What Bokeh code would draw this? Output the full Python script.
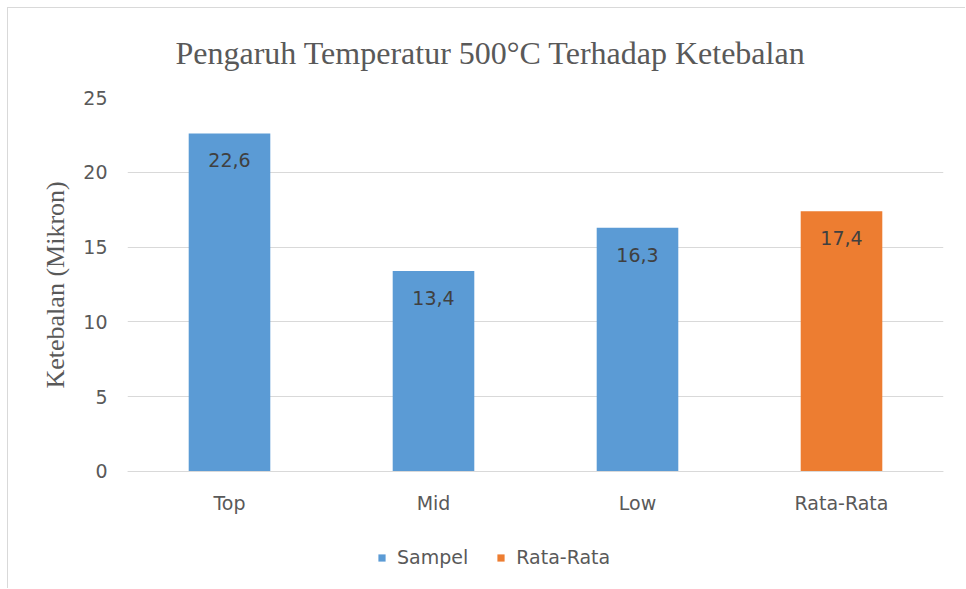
from bokeh.plotting import figure
from bokeh.models import ColumnDataSource, Legend, LegendItem, FactorRange, Range1d, FixedTicker, Title
from bokeh.core.properties import value
from bokeh.embed import file_html
from bokeh.resources import INLINE

categories = ["Top", "Mid", "Low", "Rata-Rata"]
values = [22.6, 13.4, 16.3, 17.4]
value_labels = ["22,6", "13,4", "16,3", "17,4"]
series = ["Sampel", "Sampel", "Sampel", "Rata-Rata"]
y_ticks = [0, 5, 10, 15, 20, 25]
title_text = "Pengaruh Temperatur 500°C Terhadap Ketebalan"
y_label = "Ketebalan (Mikron)"

BLUE = "#5B9BD5"
ORANGE = "#ED7D31"
GRAY = "#595959"
SANS = "DejaVu Sans"
colors = [BLUE if s == "Sampel" else ORANGE for s in series]

src = ColumnDataSource(dict(cat=categories, val=values, lab=value_labels, color=colors, series=series))

# frame extends below zero so that the category axis and legend sit inside it
p = figure(x_range=FactorRange(*categories), y_range=Range1d(-7.888, 25),
           width=958, height=581, output_backend="svg", toolbar_location=None,
           min_border_left=119, min_border_right=23, min_border_top=89, min_border_bottom=0,
           title=None)
p.styles = {"margin-left": "7px", "margin-top": "7px",
            "border-left": "1px solid #d9d9d9", "border-top": "1px solid #d9d9d9"}

p.outline_line_color = None
p.background_fill_color = "white"
p.border_fill_color = "white"

p.vbar(x="cat", top="val", width=0.4, fill_color="color", line_color=None, source=src)

p.text(x="cat", y="val", text="lab", source=src, text_align="center", text_baseline="middle",
       y_offset=27, text_font=value(SANS), text_font_size="19px", text_color="#404040")

p.xgrid.grid_line_color = None
p.ygrid.grid_line_color = "#d9d9d9"
p.ygrid.ticker = FixedTicker(ticks=y_ticks)

p.yaxis.ticker = FixedTicker(ticks=y_ticks)
p.yaxis.axis_line_color = None
p.yaxis.major_tick_line_color = None
p.yaxis.minor_tick_line_color = None
p.yaxis.major_tick_out = 0
p.yaxis.major_tick_in = 0
p.yaxis.major_label_text_font = SANS
p.yaxis.major_label_text_font_size = "19px"
p.yaxis.major_label_text_color = GRAY
p.yaxis.major_label_standoff = 20

p.xaxis.fixed_location = 0
p.xaxis.axis_line_color = "#d9d9d9"
p.xaxis.major_tick_line_color = None
p.xaxis.minor_tick_line_color = None
p.xaxis.major_tick_out = 0
p.xaxis.major_tick_in = 0
p.xaxis.major_label_text_font = SANS
p.xaxis.major_label_text_font_size = "19px"
p.xaxis.major_label_text_color = GRAY
p.xaxis.major_label_standoff = 21

t = Title(text=title_text, text_font="Liberation Serif", text_font_size="32px",
          text_font_style="normal", text_color=GRAY, align="left", offset=48,
          vertical_align="top", standoff=50)
p.add_layout(t, "above")

yl = Title(text=y_label, text_font="Liberation Serif", text_font_size="26px",
           text_font_style="normal", text_color=GRAY, align="left", offset=201,
           vertical_align="top", standoff=17)
p.add_layout(yl, "left")

# legend proxies (zero-height bars, one per series)
leg_src_s = ColumnDataSource(dict(cat=[categories[0]], val=[0]))
leg_src_r = ColumnDataSource(dict(cat=[categories[3]], val=[0]))
rs = p.vbar(x="cat", top="val", width=0.4, fill_color=BLUE, line_color=None, source=leg_src_s)
rr = p.vbar(x="cat", top="val", width=0.4, fill_color=ORANGE, line_color=None, source=leg_src_r)

legend = Legend(items=[LegendItem(label="Sampel", renderers=[rs]),
                       LegendItem(label="Rata-Rata", renderers=[rr])],
                orientation="horizontal", location=(250, 21))
legend.glyph_width = 9
legend.glyph_height = 9
legend.label_text_font = SANS
legend.label_text_font_size = "19px"
legend.label_text_color = GRAY
legend.label_standoff = 11
legend.spacing = 28
legend.border_line_color = None
legend.background_fill_alpha = 0
legend.padding = 5
legend.margin = 0
p.add_layout(legend, "center")

open("out.html", "w").write(file_html(p, INLINE))
